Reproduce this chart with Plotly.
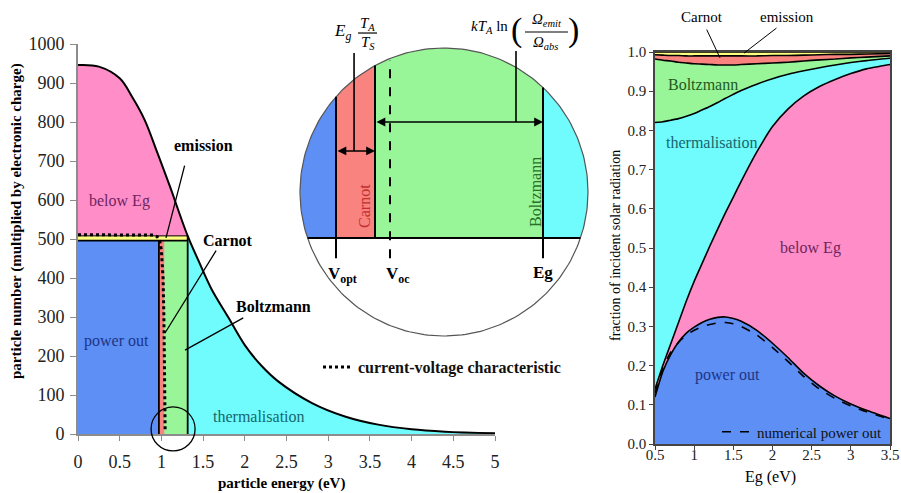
import numpy as np
import plotly.graph_objects as go

# ---------------- left panel: solar photon flux above energy E ----------------
energy_ev = [0.0, 0.25, 0.5, 0.65, 0.8, 0.95, 1.1, 1.315, 1.45, 1.6, 1.8, 2.0,
             2.2, 2.4, 2.8, 3.2, 3.6, 4.0, 4.4, 5.0]
particle_number = [946, 942, 912, 864, 805, 722, 636, 508, 442, 372, 300, 228,
                   175, 135, 80, 45, 24, 12, 6, 2]

# loss partition at the operating point
V_OPT = 0.97      # voltage at maximum power
V_CARNOT = 1.035  # V_opt + Carnot loss
V_OC = 1.06       # open-circuit voltage (inset)
E_GAP = 1.315     # band gap
J_OUT = 496       # current at maximum power
J_ABS = 508       # absorbed photon flux

iv_voltage = [0.0, 0.5, 0.9, 0.95, 0.98, 1.0, 1.02, 1.03, 1.035, 1.04, 1.045]
iv_current = [511, 511, 510, 506, 496, 470, 400, 300, 200, 100, 8]

left_xticks = [0, 0.5, 1, 1.5, 2, 2.5, 3, 3.5, 4, 4.5, 5]
left_xticklabels = ["0", "0.5", "1", "1.5", "2", "2.5", "3", "3.5", "4", "4.5", "5"]
left_yticks = [0, 100, 200, 300, 400, 500, 600, 700, 800, 900, 1000]

# ---------------- right panel: fraction of incident radiation vs band gap ------
eg_ev = [0.5, 0.6, 0.7, 0.8, 0.9, 1.0, 1.1, 1.2, 1.3, 1.4, 1.5, 1.6, 1.8, 2.0,
         2.2, 2.4, 2.6, 2.8, 3.0, 3.2, 3.5]
power_out = [0.12, 0.185, 0.228, 0.26, 0.283, 0.298, 0.31, 0.318, 0.323, 0.324,
             0.32, 0.313, 0.29, 0.257, 0.22, 0.18, 0.148, 0.122, 0.102, 0.086, 0.065]
numerical_power_out = [0.13, 0.193, 0.234, 0.259, 0.278, 0.29, 0.299, 0.305, 0.309,
                       0.31, 0.307, 0.3, 0.278, 0.246, 0.21, 0.172, 0.14, 0.116,
                       0.097, 0.082, 0.063]
below_eg_top = [0.14, 0.20, 0.255, 0.31, 0.365, 0.415, 0.46, 0.505, 0.548, 0.59,
                0.63, 0.67, 0.745, 0.81, 0.855, 0.888, 0.912, 0.93, 0.945, 0.957, 0.968]
thermal_top = [0.82, 0.822, 0.826, 0.83, 0.836, 0.843, 0.852, 0.861, 0.871, 0.882,
               0.892, 0.902, 0.918, 0.932, 0.943, 0.952, 0.96, 0.967, 0.973, 0.978, 0.984]
boltzmann_top = [0.982, 0.979, 0.977, 0.974, 0.972, 0.970, 0.969, 0.968, 0.967, 0.967,
                 0.967, 0.968, 0.970, 0.972, 0.974, 0.977, 0.980, 0.982, 0.985, 0.987, 0.990]
carnot_top = [0.993, 0.992, 0.991, 0.991, 0.990, 0.990, 0.990, 0.990, 0.990, 0.990,
              0.990, 0.990, 0.990, 0.991, 0.991, 0.992, 0.993, 0.994, 0.994, 0.995, 0.996]
emission_top = [1.0] * len(eg_ev)

right_xticks = [0.5, 1, 1.5, 2, 2.5, 3, 3.5]
right_xticklabels = ["0.5", "1", "1.5", "2", "2.5", "3", "3.5"]

# ---------------- styling ----------------
SERIF = "Liberation Serif"
BLUE = "#5d8ff5"
PINK = "#ff8ec8"
CYAN = "#70fcfc"
GREEN = "#98f698"
RED = "#f8837f"
YELLOW = "#ffff80"
PURPLE_TXT = "#6e2460"
NAVY_TXT = "#1e3585"
TEAL_TXT = "#16676f"
GREEN_TXT = "#1f5a1f"

W, H = 901, 493
LEFT_X = [78 / W, 495 / W]
LEFT_Y = [(H - 434) / H, (H - 44) / H]
RIGHT_X = [655 / W, 890 / W]
RIGHT_Y = [(H - 444) / H, (H - 52) / H]

fig = go.Figure()


def area(x, y, color, fill, xa="x", ya="y", shape="linear"):
    fig.add_trace(go.Scatter(x=x, y=y, mode="lines", fill=fill, fillcolor=color,
                             line=dict(width=0, shape=shape), hoverinfo="skip",
                             showlegend=False, xaxis=xa, yaxis=ya))


def line(x, y, width=1.8, xa="x", ya="y", dash="solid", shape="linear", color="black"):
    fig.add_trace(go.Scatter(x=x, y=y, mode="lines",
                             line=dict(width=width, color=color, dash=dash, shape=shape),
                             hoverinfo="skip", showlegend=False, xaxis=xa, yaxis=ya))


# ---- left panel ----
k = energy_ev.index(E_GAP)
area(energy_ev[:k + 1], particle_number[:k + 1], PINK, "tozeroy", shape="spline")
area(energy_ev[k:], particle_number[k:], CYAN, "tozeroy", shape="spline")


def rect(x0, x1, y0, y1, color):
    area([x0, x1, x1, x0, x0], [y0, y0, y1, y1, y0], color, "toself")


rect(0, V_OPT, 0, J_OUT, BLUE)
rect(V_OPT, V_CARNOT, 0, J_OUT, RED)
rect(V_CARNOT, E_GAP, 0, J_OUT, GREEN)
rect(0, E_GAP, J_OUT, J_ABS, YELLOW)

line([0, E_GAP, None, V_OPT, V_OPT, None, E_GAP, E_GAP],
     [J_OUT, J_OUT, None, 0, J_OUT, None, 0, J_ABS], width=1.8)
line([0, E_GAP], [J_ABS, J_ABS], width=1)
line(energy_ev, particle_number, width=2, shape="spline")

fig.add_trace(go.Scatter(x=iv_voltage, y=iv_current, mode="lines",
                         line=dict(width=3, color="black", dash="dot"),
                         name="current-voltage characteristic", legend="legend",
                         hoverinfo="skip", xaxis="x", yaxis="y"))

# ---- right panel (stacked fractions) ----
stack = [(power_out, BLUE, "tozeroy"), (below_eg_top, PINK, "tonexty"),
         (thermal_top, CYAN, "tonexty"), (boltzmann_top, GREEN, "tonexty"),
         (carnot_top, RED, "tonexty"), (emission_top, YELLOW, "tonexty")]
for vals, col, fl in stack:
    fig.add_trace(go.Scatter(x=eg_ev, y=vals, mode="lines", fill=fl, fillcolor=col,
                             line=dict(width=1.6, color="black", shape="spline", smoothing=0.6),
                             hoverinfo="skip", showlegend=False, xaxis="x2", yaxis="y2"))
fig.add_trace(go.Scatter(x=eg_ev, y=numerical_power_out, mode="lines",
                         line=dict(width=1.6, color="black", dash="dash", shape="spline",
                                   smoothing=0.6),
                         name="numerical power out", legend="legend2",
                         hoverinfo="skip", xaxis="x2", yaxis="y2"))

# ---- inset: magnified view of the circled region (unit circle) ----
U_OPT, U_EG = -0.75, 0.6875
SCALE = (U_EG - U_OPT) / (E_GAP - V_OPT)


def ux(e):
    return U_OPT + (e - V_OPT) * SCALE


YB = -0.32
XR = float(np.sqrt(1 - YB ** 2))


def cap(xa, xb):
    th0 = np.arctan2(YB, XR) if xb >= XR else np.arccos(xb)
    th1 = np.pi + np.arcsin(-YB) if xa <= -XR else np.arccos(xa)
    ts = np.linspace(th0, th1, 90)
    xs = [max(xa, -XR), min(xb, XR)] + list(np.cos(ts))
    ys = [YB, YB] + list(np.sin(ts))
    return xs, ys


for xa, xb, col in [(-1.1, ux(V_OPT), BLUE), (ux(V_OPT), ux(V_CARNOT), RED),
                    (ux(V_CARNOT), ux(E_GAP), GREEN), (ux(E_GAP), 1.1, CYAN)]:
    xs, ys = cap(xa, xb)
    area(xs, ys, col, "toself", xa="x3", ya="y3")

tt = np.linspace(0, 2 * np.pi, 240)
line(list(np.cos(tt)), list(np.sin(tt)), width=1.2, xa="x3", ya="y3", color="#555555")
line([-XR, XR], [YB, YB], width=2, xa="x3", ya="y3")
for e, low in [(V_OPT, YB - 0.14), (V_CARNOT, YB), (E_GAP, YB - 0.14)]:
    u = ux(e)
    line([u, u], [low, float(np.sqrt(1 - u ** 2))], width=2, xa="x3", ya="y3")
u = ux(V_OC)
line([u, u], [YB - 0.14, float(np.sqrt(1 - u ** 2)) - 0.01], width=2, xa="x3", ya="y3",
     dash="dash")

A1, A2 = 0.285, 0.486
L1 = (ux(V_OPT) + ux(V_CARNOT)) / 2 - 0.01
L2 = 0.5
line([L1, L1], [A1, 0.965], width=1.6, xa="x3", ya="y3")
line([L2, L2], [A2, 0.98], width=1.6, xa="x3", ya="y3")
line([-0.597, -0.465], [1.104, 1.104], width=1.2, xa="x3", ya="y3")
line([0.5625, 0.861], [1.111, 1.111], width=1.2, xa="x3", ya="y3")

annotations = []


def txt(x, y, s, size=16, color="black", ref=("x", "y"), angle=0, xanchor="center"):
    annotations.append(dict(x=x, y=y, xref=ref[0], yref=ref[1], text=s, showarrow=False,
                            textangle=angle, xanchor=xanchor, yanchor="middle",
                            font=dict(family=SERIF, size=size, color=color)))


def leader(x0, y0, x1, y1, ref=("x", "y"), width=1.3, both=False):
    d = dict(x=x1, y=y1, ax=x0, ay=y0, xref=ref[0], yref=ref[1], axref=ref[0],
             ayref=ref[1], text="", showarrow=True, arrowwidth=width,
             arrowcolor="black", arrowhead=0)
    if both:
        d.update(arrowhead=2, startarrowhead=2, arrowside="end+start", arrowsize=1.1,
                 startarrowsize=1.1)
    annotations.append(d)


# left panel labels
txt(1.5, 741, "<b>emission</b>")
txt(1.80, 497, "<b>Carnot</b>")
txt(2.34, 326, "<b>Boltzmann</b>")
txt(0.50, 597, "below Eg", color=PURPLE_TXT)
txt(0.46, 238, "power out", color=NAVY_TXT)
txt(2.17, 46, "thermalisation", color=TEAL_TXT)
leader(1.283, 692, 1.055, 503)
leader(1.667, 474, 1.043, 259)
leader(2.0, 300, 1.283, 215)

# right panel labels
R = ("x2", "y2")
P = ("paper", "paper")
txt(702 / W, 1 - 17 / H, "Carnot", size=15, ref=P)
txt(787 / W, 1 - 17 / H, "emission", size=15, ref=P)
txt(1.113, 0.918, "Boltzmann", size=16, color=GREEN_TXT, ref=R)
txt(1.228, 0.770, "thermalisation", size=16, color=TEAL_TXT, ref=R)
txt(2.48, 0.50, "below Eg", size=16, color=PURPLE_TXT, ref=R)
txt(1.43, 0.176, "power out", size=16, color=NAVY_TXT, ref=R)
leader(1.151, 1.061, 1.33, 0.985, ref=R, width=1)
leader(2.07, 1.064, 1.636, 0.997, ref=R, width=1)

# inset labels
I = ("x3", "y3")
leader(ux(V_OPT), A1, ux(V_CARNOT), A1, ref=I, width=1.6, both=True)
leader(ux(V_CARNOT), A2, ux(E_GAP), A2, ref=I, width=1.6, both=True)
txt(-0.708, 1.111, "<i>E<sub>g</sub></i>", size=17, ref=I)
txt(-0.528, 1.165, "<i>T<sub>A</sub></i>", size=15, ref=I)
txt(-0.528, 1.035, "<i>T<sub>S</sub></i>", size=15, ref=I)
txt(0.3125, 1.146, "<i>kT<sub>A</sub></i> ln", size=15, ref=I)
txt(0.50, 1.125, "(", size=34, ref=I)
txt(0.896, 1.125, ")", size=34, ref=I)
txt(0.715, 1.194, "<i>Ω<sub>emit</sub></i>", size=15, ref=I)
txt(0.708, 1.035, "<i>Ω<sub>abs</sub></i>", size=15, ref=I)
txt(-0.708, -0.576, "<b>V<sub>opt</sub></b>", size=17, ref=I)
txt(-0.319, -0.576, "<b>V<sub>oc</sub></b>", size=17, ref=I)
txt(ux(E_GAP), -0.556, "<b>Eg</b>", size=17, ref=I)
txt(-0.549, -0.097, "Carnot", size=16, color="#c0302e", ref=I, angle=-90)
txt(0.632, 0.0, "Boltzmann", size=16, color="#2a6f2a", ref=I, angle=-90)

# axis titles
txt(16 / W, 1 - 221 / H, "<b>particle number (multiplied by electronic charge)</b>",
    size=15, ref=P, angle=-90)
txt(281 / W, 1 - 483 / H, "<b>particle energy (eV)</b>", size=15, ref=P)
txt(616 / W, 1 - 246 / H, "fraction of incident solar radiation", size=14, ref=P,
    angle=-90)
txt(770 / W, 1 - 477 / H, "Eg (eV)", size=16, ref=P)

# circle marking the magnified region on the left panel
CIRC_E, CIRC_N, CIRC_R = 1.14, 13, 22
cx = LEFT_X[0] + (LEFT_X[1] - LEFT_X[0]) * CIRC_E / 5
cy = LEFT_Y[0] + (LEFT_Y[1] - LEFT_Y[0]) * CIRC_N / 1000
shapes = [dict(type="circle", xref="paper", yref="paper", xsizemode="pixel",
               ysizemode="pixel", xanchor=cx, yanchor=cy, x0=-CIRC_R, x1=CIRC_R,
               y0=-CIRC_R, y1=CIRC_R, line=dict(color="black", width=1.3))]

# inset axes expressed in circle radii (radius = 144 px, centre at 444, 192)
IX0, IX1, IY0, IY1 = 290, 600, 5, 345
ICX, ICY, IR = 444, 192, 144

axis_common = dict(showgrid=False, zeroline=False, automargin=False)
fig.update_layout(
    width=W, height=H, margin=dict(l=0, r=0, t=0, b=0),
    paper_bgcolor="white", plot_bgcolor="rgba(0,0,0,0)",
    font=dict(family=SERIF, color="#222222"),
    xaxis=dict(domain=LEFT_X, range=[0, 5], tickvals=left_xticks,
               ticktext=left_xticklabels, showline=True, linecolor="#8c8c8c",
               linewidth=2, ticks="outside", ticklen=5, tickcolor="#8c8c8c",
               tickfont=dict(size=18, family=SERIF, color="#222"), ticklabelstandoff=5,
               anchor="y", **axis_common),
    yaxis=dict(domain=LEFT_Y, range=[0, 1000], tickvals=left_yticks, showline=True,
               linecolor="#8c8c8c", linewidth=2, ticks="outside", ticklen=6,
               tickcolor="#8c8c8c", tickfont=dict(size=18, family=SERIF, color="#222"),
               ticklabelstandoff=2, anchor="x", **axis_common),
    xaxis2=dict(domain=RIGHT_X, range=[0.5, 3.5], tickvals=right_xticks,
                ticktext=right_xticklabels, showline=True, mirror=True,
                linecolor="#444", linewidth=1.5, ticks="outside", ticklen=4,
                tickcolor="#444", tickfont=dict(size=15, family=SERIF, color="#222"),
                ticklabelstandoff=-8, anchor="y2", **axis_common),
    yaxis2=dict(domain=RIGHT_Y, range=[0, 1.0], dtick=0.1, tickformat=".1f",
                showline=True, mirror=True, linecolor="#444", linewidth=1.5,
                ticks="outside", ticklen=4, tickcolor="#444",
                tickfont=dict(size=15, family=SERIF, color="#222"), anchor="x2",
                **axis_common),
    xaxis3=dict(domain=[IX0 / W, IX1 / W], range=[(IX0 - ICX) / IR, (IX1 - ICX) / IR],
                visible=False, anchor="y3", **axis_common),
    yaxis3=dict(domain=[(H - IY1) / H, (H - IY0) / H],
                range=[(ICY - IY1) / IR, (ICY - IY0) / IR], visible=False, anchor="x3",
                **axis_common),
    legend=dict(x=318 / W, y=1 - 367 / H, xanchor="left", yanchor="middle",
                bgcolor="rgba(0,0,0,0)", font=dict(size=16, family=SERIF, color="#111",
                                                   weight="bold")),
    legend2=dict(x=717 / W, y=1 - 432 / H, xanchor="left", yanchor="middle",
                 bgcolor="rgba(0,0,0,0)", font=dict(size=15, family=SERIF, color="#111")),
    annotations=annotations,
    shapes=shapes,
)

fig.write_html("out.html")
